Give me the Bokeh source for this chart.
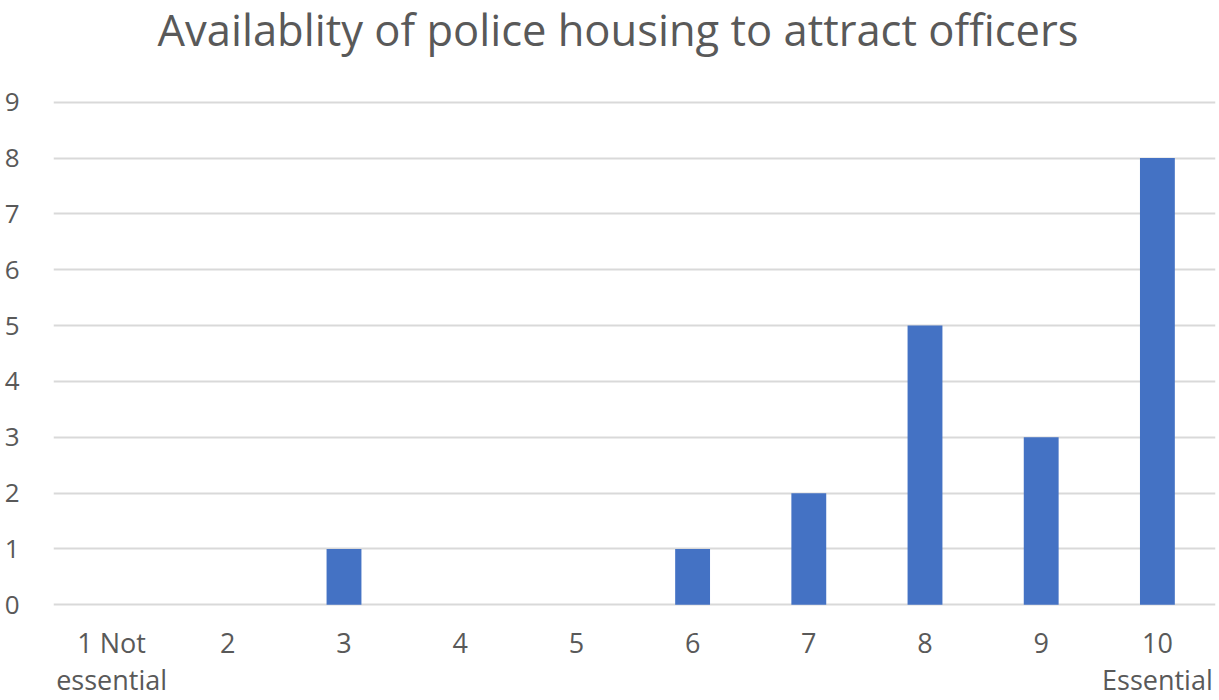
from bokeh.plotting import figure
from bokeh.models import Range1d, FixedTicker, ColumnDataSource, Label
from bokeh.embed import file_html
from bokeh.resources import INLINE

# Survey responses on a 1-10 scale (1 = not essential, 10 = essential) and counts
categories = ["1 Not\nessential", "2", "3", "4", "5", "6", "7", "8", "9", "10\nEssential"]
counts = [0, 0, 1, 0, 0, 1, 2, 5, 3, 8]
y_ticks = [0, 1, 2, 3, 4, 5, 6, 7, 8, 9]
title_text = "Availablity of police housing to attract officers"

TEXT = "#595959"
FONT = "Open Sans"

source = ColumnDataSource(data=dict(cat=categories, count=counts))

# The plotting area reaches to the top of the canvas so the heading can sit
# inside it; the value axis only ticks 0-9, leaving headroom for the heading.
p = figure(
    x_range=categories,
    y_range=Range1d(-0.03, 10.822),
    width=1219,
    height=700,
    output_backend="svg",
    toolbar_location=None,
    min_border_left=53,
    min_border_right=4,
    min_border_top=0,
    min_border_bottom=94,
)

p.vbar(x="cat", top="count", width=0.30, source=source,
       fill_color="#4472C4", line_color=None)

heading = Label(
    x=4.858, y=10.30,
    text=title_text, text_align="center", text_baseline="alphabetic",
    text_font=FONT, text_font_size="43.5px", text_color=TEXT,
)
p.add_layout(heading)

p.outline_line_color = None
p.background_fill_color = "white"
p.border_fill_color = "white"

p.xgrid.grid_line_color = None
p.ygrid.grid_line_color = "#d9d9d9"
p.ygrid.grid_line_width = 2

p.yaxis.ticker = FixedTicker(ticks=y_ticks)
for ax in (p.xaxis, p.yaxis):
    ax.axis_line_color = None
    ax.major_tick_line_color = None
    ax.minor_tick_line_color = None
    ax.major_label_text_font = FONT
    ax.major_label_text_color = TEXT

p.yaxis.major_label_text_font_size = "26px"
p.yaxis.major_label_standoff = 28
p.xaxis.major_label_text_font_size = "27px"
p.xaxis.major_label_text_line_height = 1.0
p.xaxis.major_label_standoff = 11

open("out.html", "w").write(file_html(p, INLINE))
